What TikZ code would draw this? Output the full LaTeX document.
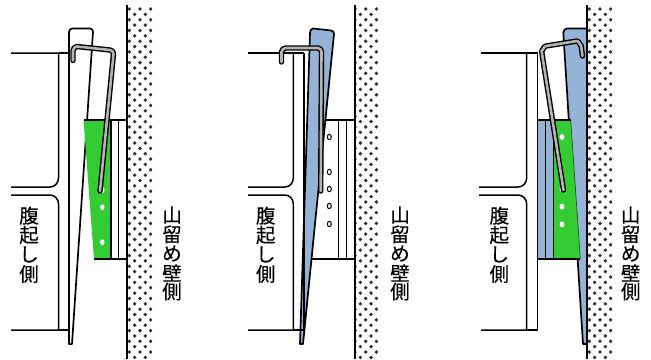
\documentclass[tikz,border=0pt]{standalone}
\usepackage{fontspec}
\setmainfont[FakeBold=0.25]{Noto Sans CJK JP}
\definecolor{steelblue}{HTML}{95B3D7}
\definecolor{platecol}{HTML}{33CC33}
\definecolor{hookgray}{HTML}{B4B4B4}
\tikzset{
  ln/.style={draw=black,line width=1.5pt},
  taper/.style={draw=black,line width=1.7pt,line join=round},
  wallline/.style={draw=black,line width=1.8pt},
  hookout/.style={draw=black,line width=5.4pt,line cap=round,line join=round},
  hookin/.style={draw=hookgray,line width=2.6pt,line cap=round,line join=round},
  holefill/.style={fill=white,draw=none},
  holeopen/.style={fill=white,draw=black,line width=1pt},
  dotmark/.style={fill=black!80,draw=none},
  vlabel/.style={font=\fontsize{19.5}{19.5}\selectfont,inner sep=0pt,text=black}
}
\newcommand{\dotfield}[2]{% left clip x, first dot x of odd rows
  \begin{scope}
    \clip (#1,5) rectangle ({#1+24},359);
    \foreach \r in {0,...,33}{
      \foreach \c in {0,1,2,3}{
        \fill[dotmark] ({#2+\c*10.7},{9+\r*10.72}) circle (1.9);
        \fill[dotmark] ({#2+5.35+\c*10.7},{14.36+\r*10.72}) circle (1.9);
      }
    }
  \end{scope}}
\begin{document}
\begin{tikzpicture}[x=1pt,y=-1pt]
\useasboundingbox (0,0) rectangle (651,359);
\fill[white] (0,0) rectangle (651,359);

% ---------- left panel
\dotfield{128}{129.3}
\draw[wallline] (127,5) -- (127,359);
\draw[ln] (11,53) -- (58.5,53) -- (58.5,178) to[out=270,in=0] (50,187) -- (11,187);
\draw[ln] (11,195) -- (50,195) to[out=0,in=90] (58.5,204) -- (58.5,330) -- (11,330);
\draw[ln] (58.5,330) -- (69,330);
\draw[ln] (58.5,53) -- (69,53);
\draw[taper] (69,344) -- (69,32) to[out=90,in=180] (72.5,28.5) -- (90,28.5) to[out=0,in=90] (93,32) -- (72,344) -- cycle;
\fill[platecol] (83.5,120) -- (111,120) -- (111,259) -- (94,259) -- cycle;
\draw[ln] (83.5,120) -- (127,120) (94,259) -- (127,259) (111,120) -- (111,259) (118.7,120) -- (118.7,259);
\fill[holefill] (102.3,190) ellipse (2.2 and 3);
\fill[holefill] (102.3,207.3) ellipse (2.2 and 3);
\fill[holefill] (102.3,242.3) ellipse (2.2 and 3);
\draw[hookout] (73,60.5) -- (73,51) to[out=90,in=175] (77,46.5) -- (110,50) to[out=-5,in=85] (113.5,54) -- (100,191);
\draw[hookin] (73,60.5) -- (73,51) to[out=90,in=175] (77,46.5) -- (110,50) to[out=-5,in=85] (113.5,54) -- (100,191);

% ---------- middle panel
\dotfield{356}{355}
\draw[wallline] (355,5) -- (355,359);
\draw[ln] (248,53) -- (304,53);
\draw[ln] (293.3,53) -- (293.3,178) to[out=270,in=0] (285,187) -- (248,187);
\draw[ln] (248,195) -- (285,195) to[out=0,in=90] (293.3,204) -- (293.3,330) -- (248,330);
\draw[ln] (322,120) -- (355,120) (312,259) -- (355,259) (338.7,120) -- (338.7,259) (346.3,120) -- (346.3,259);
\draw[taper,fill=steelblue] (300,344) -- (310,33) to[out=90,in=185] (313,28.5) -- (331,30.5) to[out=5,in=85] (334,34) -- (303,344) -- cycle;
\draw[ln] (304,53) -- (304,330);
\draw[ln] (293.3,330) -- (304,330);
\foreach \y in {137,172,189,206,224}{\draw[holeopen] (329.3,\y) ellipse (2 and 2.7);}
\draw[hookout] (281.5,62) -- (281.5,52) to[out=90,in=180] (286,48) -- (318,48) to[out=0,in=90] (321.5,52) -- (320.7,191);
\draw[hookin] (281.5,62) -- (281.5,52) to[out=90,in=180] (286,48) -- (318,48) to[out=0,in=90] (321.5,52) -- (320.7,191);

% ---------- right panel
\dotfield{588}{589.3}
\draw[ln] (481,53) -- (537.7,53);
\draw[ln] (526.7,53) -- (526.7,178) to[out=270,in=0] (518,187) -- (479,187);
\draw[ln] (479,195) -- (518,195) to[out=0,in=90] (526.7,204) -- (526.7,330) -- (481,330);
\draw[ln] (526.7,330) -- (537.7,330) -- (537.7,53);
\draw[taper,fill=steelblue] (583,344) -- (563.3,33) to[out=90,in=180] (567,28.5) -- (587,28.5) -- (587,344) -- cycle;
\filldraw[fill=steelblue,draw=black,line width=1.5pt] (537.7,120) rectangle (553.7,259);
\draw[ln] (545.7,120) -- (545.7,259);
\fill[platecol] (553.7,120) -- (570.7,120) -- (580.3,259) -- (553.7,259) -- cycle;
\draw[draw=black!55!platecol,line width=.7pt] (570.7,120) -- (580.3,259);
\draw[ln] (537.7,120) -- (570.7,120) (537.7,259) -- (580.3,259) (553.7,120) -- (553.7,259);
\draw[wallline] (587,5) -- (587,359);
\foreach \y in {137,189,206.7,224.3}{\fill[holefill] (562,\y) ellipse (2.4 and 3);}
\draw[hookout] (582.5,56) -- (581,45) to[out=-100,in=0] (577,41) -- (546,46) to[out=185,in=-85] (541.5,50.5) -- (563.5,190);
\draw[hookin] (582.5,56) -- (581,45) to[out=-100,in=0] (577,41) -- (546,46) to[out=185,in=-85] (541.5,50.5) -- (563.5,190);

% ---------- labels
\foreach \n/\x in {a/29,b/265.7,c/499.3}{
  \node[vlabel] (\n1) at (\x,215.7) {腹};
  \node[vlabel] (\n2) at (\x,235) {起};
  \node[vlabel] (\n3) at (\x,254.5) {し};
  \node[vlabel] (\n4) at (\x,274) {側};
}
\foreach \n/\x in {d/172,e/400,f/630.7}{
  \node[vlabel] (\n1) at (\x,215) {山};
  \node[vlabel] (\n2) at (\x,234.3) {留};
  \node[vlabel] (\n3) at (\x,253.5) {め};
  \node[vlabel] (\n4) at (\x,273) {壁};
  \node[vlabel] (\n5) at (\x,291.5) {側};
}
\end{tikzpicture}
\end{document}
